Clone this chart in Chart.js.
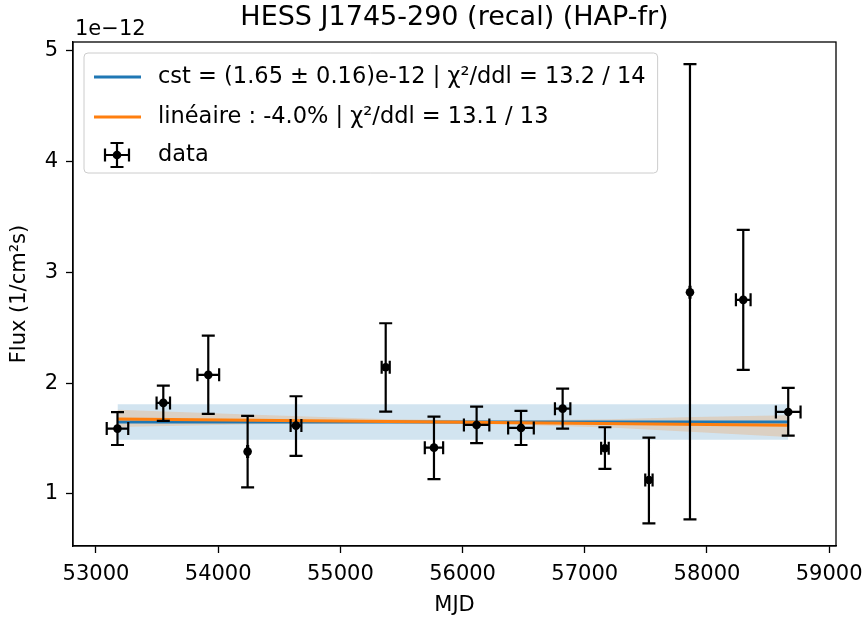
<!DOCTYPE html>
<html>
<head>
<meta charset="utf-8">
<script src="https://cdn.jsdelivr.net/npm/chart.js@4"></script>
<style>
  html, body { margin: 0; padding: 0; background: #fff; }
</style>
</head>
<body>
<canvas id="myChart" width="867" height="619"></canvas>
<script>
// valeurs (flux en unités de 1e-12)
const mjd      = [53176, 53551, 53919, 54241, 54637, 55371, 55766, 56115, 56478, 56819, 57165, 57525, 57861, 58297, 58665]
const mjdErr   = [88, 55, 89, 4, 44, 33, 75, 104, 105, 63, 31, 30, 4, 60, 101]
const flux     = [1.590, 1.822, 2.075, 1.382, 1.617, 2.144, 1.418, 1.623, 1.596, 1.770, 1.413, 1.126, 2.821, 2.752, 1.740]
const fluxLow  = [1.442, 1.659, 1.722, 1.060, 1.343, 1.743, 1.133, 1.458, 1.442, 1.590, 1.226, 0.735, 0.771, 2.120, 1.526]
const fluxHigh = [1.738, 1.978, 2.430, 1.704, 1.882, 2.541, 1.698, 1.788, 1.749, 1.951, 1.602, 1.508, 4.880, 3.384, 1.957]

// ajustement constant
const cstX    = [53176, 58665]
const cstY    = [1.65, 1.65]
const cstLow  = [1.49, 1.49]
const cstHigh = [1.81, 1.81]

// ajustement linéaire
const linX     = [53176, 58665]
const linY     = [1.677, 1.620]
const linBandX = [53176, 54300, 55400, 56300, 57200, 57900, 58665]
const linLow   = [1.605, 1.630, 1.640, 1.630, 1.600, 1.560, 1.515]
const linHigh  = [1.761, 1.715, 1.675, 1.662, 1.675, 1.695, 1.710]

const xTicks = [53000, 54000, 55000, 56000, 57000, 58000, 59000]
const yTicks = [1, 2, 3, 4, 5]

const legendLabels = [
  'cst = (1.65 ± 0.16)e-12 | χ²/ddl = 13.2 / 14',
  'linéaire : -4.0% | χ²/ddl = 13.1 / 13',
  'data'
]
const titre = 'HESS J1745-290 (recal) (HAP-fr)'

const bleu = '#1f77b4'
const orange = '#ff7f0e'
const police = '"DejaVu Sans", sans-serif'

function pts(xs, ys) {
  return xs.map((x, i) => ({ x: x, y: ys[i] }))
}

// barres d'erreur, titre, cadre et légende
const decor = {
  id: 'decor',
  beforeDatasetDraw(chart, args) {
    if (args.meta.label !== 'data') return
    const ctx = chart.ctx
    const sx = chart.scales.x, sy = chart.scales.y
    ctx.save()
    ctx.strokeStyle = '#000'
    ctx.lineWidth = 2.2
    const cap = 6.5
    ctx.beginPath()
    for (let i = 0; i < mjd.length; i++) {
      const px = sx.getPixelForValue(mjd[i])
      const py = sy.getPixelForValue(flux[i])
      const x0 = sx.getPixelForValue(mjd[i] - mjdErr[i])
      const x1 = sx.getPixelForValue(mjd[i] + mjdErr[i])
      const y0 = sy.getPixelForValue(fluxLow[i])
      const y1 = sy.getPixelForValue(fluxHigh[i])
      ctx.moveTo(x0, py); ctx.lineTo(x1, py)
      ctx.moveTo(px, y0); ctx.lineTo(px, y1)
      ctx.moveTo(x0, py - cap); ctx.lineTo(x0, py + cap)
      ctx.moveTo(x1, py - cap); ctx.lineTo(x1, py + cap)
      ctx.moveTo(px - cap, y0); ctx.lineTo(px + cap, y0)
      ctx.moveTo(px - cap, y1); ctx.lineTo(px + cap, y1)
    }
    ctx.stroke()
    ctx.restore()
  },
  afterDraw(chart) {
    const ctx = chart.ctx
    const ca = chart.chartArea
    ctx.save()
    // cadre
    ctx.strokeStyle = '#000'
    ctx.lineWidth = 1.3
    ctx.strokeRect(ca.left, ca.top, ca.right - ca.left, ca.bottom - ca.top)

    // titre
    ctx.fillStyle = '#000'
    ctx.font = '27px ' + police
    ctx.textAlign = 'center'
    ctx.textBaseline = 'middle'
    ctx.fillText(titre, (ca.left + ca.right) / 2, 18)

    // multiplicateur
    ctx.font = '21px ' + police
    ctx.textAlign = 'left'
    ctx.textBaseline = 'alphabetic'
    ctx.fillText('1e\u221212', ca.left + 2, ca.top - 7)

    // légende
    ctx.font = '22.5px ' + police
    const bx = ca.left + 11, by = ca.top + 11
    const tx = bx + 74
    let largeur = 0
    legendLabels.forEach(t => { largeur = Math.max(largeur, ctx.measureText(t).width) })
    const bw = tx - bx + largeur + 12, bh = 120
    ctx.beginPath()
    ctx.roundRect(bx, by, bw, bh, 4)
    ctx.fillStyle = 'rgba(255,255,255,0.8)'
    ctx.fill()
    ctx.strokeStyle = '#cccccc'
    ctx.lineWidth = 1
    ctx.stroke()

    const rangs = [by + 24, by + 64, by + 102]
    const couleurs = [bleu, orange]
    ctx.lineWidth = 3
    for (let i = 0; i < 2; i++) {
      ctx.strokeStyle = couleurs[i]
      ctx.beginPath()
      ctx.moveTo(bx + 10, rangs[i]); ctx.lineTo(bx + 57, rangs[i])
      ctx.stroke()
    }
    const cx = bx + 33, cy = rangs[2]
    ctx.strokeStyle = '#000'
    ctx.lineWidth = 2.2
    ctx.beginPath()
    ctx.moveTo(cx - 12, cy); ctx.lineTo(cx + 12, cy)
    ctx.moveTo(cx, cy - 12); ctx.lineTo(cx, cy + 12)
    ctx.moveTo(cx - 12, cy - 6.5); ctx.lineTo(cx - 12, cy + 6.5)
    ctx.moveTo(cx + 12, cy - 6.5); ctx.lineTo(cx + 12, cy + 6.5)
    ctx.moveTo(cx - 6.5, cy - 12); ctx.lineTo(cx + 6.5, cy - 12)
    ctx.moveTo(cx - 6.5, cy + 12); ctx.lineTo(cx + 6.5, cy + 12)
    ctx.stroke()
    ctx.fillStyle = '#000'
    ctx.beginPath()
    ctx.arc(cx, cy, 4.3, 0, Math.PI * 2)
    ctx.fill()

    ctx.textBaseline = 'middle'
    legendLabels.forEach((t, i) => ctx.fillText(t, tx, rangs[i]))
    ctx.restore()
  }
}

const ctx = document.getElementById('myChart')

const data = {
  datasets: [
    {
      label: 'data', type: 'scatter', order: 0,
      data: pts(mjd, flux),
      pointRadius: 4.3, pointBackgroundColor: '#000', pointBorderWidth: 0
    },
    {
      label: 'lin', type: 'line', order: 1,
      data: pts(linX, linY),
      borderColor: orange, borderWidth: 3, pointRadius: 0, fill: false
    },
    {
      label: 'cst', type: 'line', order: 2,
      data: pts(cstX, cstY),
      borderColor: bleu, borderWidth: 3, pointRadius: 0, fill: false
    },
    {
      label: 'linLow', type: 'line', order: 3,
      data: pts(linBandX, linLow),
      borderWidth: 0, pointRadius: 0, fill: false
    },
    {
      label: 'linHigh', type: 'line', order: 3,
      data: pts(linBandX, linHigh),
      borderWidth: 0, pointRadius: 0, fill: '-1',
      backgroundColor: 'rgba(255,127,14,0.2)'
    },
    {
      label: 'cstLow', type: 'line', order: 4,
      data: pts(cstX, cstLow),
      borderWidth: 0, pointRadius: 0, fill: false
    },
    {
      label: 'cstHigh', type: 'line', order: 4,
      data: pts(cstX, cstHigh),
      borderWidth: 0, pointRadius: 0, fill: '-1',
      backgroundColor: 'rgba(31,119,180,0.2)'
    }
  ]
}

const axe = {
  grid: { drawOnChartArea: false, drawTicks: true, tickLength: 7, tickColor: '#000', tickWidth: 1.3 },
  border: { display: true, color: '#000', width: 1.3 }
}

const config = {
  type: 'scatter',
  data: data,
  options: {
    responsive: false,
    animation: false,
    layout: { padding: { top: 42, right: 31, left: 0, bottom: 0 } },
    plugins: {
      legend: { display: false },
      tooltip: { enabled: false },
      title: { display: false }
    },
    scales: {
      x: {
        type: 'linear',
        min: 52812,
        max: 59056,
        grid: axe.grid,
        border: axe.border,
        afterBuildTicks: s => { s.ticks = xTicks.map(v => ({ value: v })) },
        afterFit: s => { s.height = 73; s.paddingLeft = 0; s.paddingRight = 0 },
        ticks: {
          color: '#000', font: { size: 21, family: police }, padding: 9,
          maxRotation: 0, autoSkip: false,
          callback: v => String(v)
        },
        title: {
          display: true, text: 'MJD', color: '#000',
          font: { size: 21, family: police }, padding: { top: 2, bottom: 1 }
        }
      },
      y: {
        type: 'linear',
        min: 0.53,
        max: 5.08,
        grid: axe.grid,
        border: axe.border,
        afterBuildTicks: s => { s.ticks = yTicks.map(v => ({ value: v })) },
        afterFit: s => { s.width = 73; s.paddingTop = 0; s.paddingBottom = 0 },
        ticks: {
          color: '#000', font: { size: 21, family: police }, padding: 8,
          callback: v => String(v)
        },
        title: {
          display: true, text: 'Flux (1/cm²s)', color: '#000',
          font: { size: 21, family: police }, padding: { top: 7, bottom: 0 }
        }
      }
    }
  },
  plugins: [decor]
}

const myChart = new Chart(ctx, config)
</script>
</body>
</html>
